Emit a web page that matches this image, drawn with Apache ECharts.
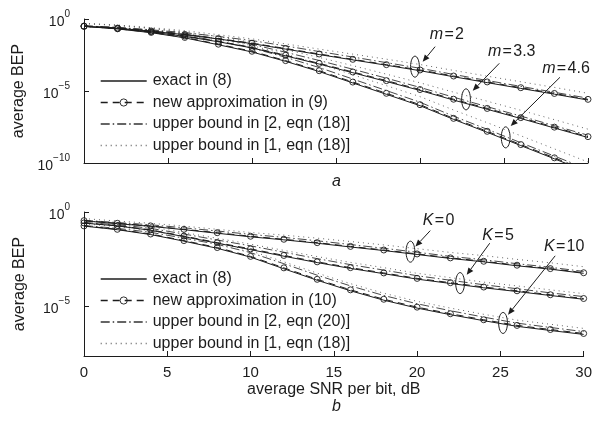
<!DOCTYPE html>
<html>
<head>
<meta charset="utf-8">
<script src="https://cdn.jsdelivr.net/npm/echarts@6/dist/echarts.min.js"></script>
<style>
  html, body { margin: 0; padding: 0; background: #fff; }
  #chart { width: 595px; height: 423px; }
</style>
</head>
<body>
<div id="chart"></div>
<script>
// SNR per bit (dB), markers every 2 dB
const snr = [0, 2, 4, 6, 8, 10, 12, 14, 16, 18, 20, 22, 24, 26, 28, 30];

// panel a (Nakagami-m), values are log10 of the average BEP
const exactM2  = [-0.51, -0.64, -0.85, -1.09, -1.39, -1.71, -2.09, -2.47, -2.84, -3.21, -3.59, -4.01, -4.42, -4.82, -5.22, -5.63];
const exactM33 = [-0.51, -0.67, -0.90, -1.21, -1.58, -2.01, -2.56, -3.13, -3.73, -4.34, -4.96, -5.63, -6.27, -6.91, -7.57, -8.23];
const exactM46 = [-0.51, -0.69, -0.95, -1.31, -1.79, -2.29, -2.94, -3.65, -4.44, -5.23, -6.02, -6.97, -7.87, -8.79, -9.71, -10.63];
const approxM2  = [-0.50, -0.63, -0.83, -1.07, -1.36, -1.68, -2.05, -2.43, -2.80, -3.17, -3.54, -3.96, -4.37, -4.77, -5.17, -5.58];
const approxM33 = [-0.50, -0.66, -0.88, -1.18, -1.55, -1.97, -2.52, -3.08, -3.68, -4.28, -4.90, -5.57, -6.21, -6.85, -7.51, -8.17];
const approxM46 = [-0.50, -0.68, -0.93, -1.28, -1.75, -2.24, -2.89, -3.59, -4.38, -5.16, -5.95, -6.90, -7.80, -8.72, -9.64, -10.56];
const ub2M2  = [-0.48, -0.58, -0.75, -0.95, -1.21, -1.50, -1.87, -2.26, -2.64, -3.03, -3.42, -3.85, -4.27, -4.68, -5.09, -5.50];
const ub2M33 = [-0.48, -0.60, -0.78, -1.04, -1.37, -1.76, -2.31, -2.88, -3.49, -4.11, -4.75, -5.43, -6.09, -6.74, -7.41, -8.07];
const ub2M46 = [-0.48, -0.61, -0.82, -1.12, -1.55, -2.01, -2.66, -3.37, -4.17, -4.97, -5.78, -6.75, -7.66, -8.59, -9.52, -10.44];
const ub1M2  = [-0.31, -0.42, -0.60, -0.81, -1.09, -1.38, -1.73, -2.09, -2.44, -2.79, -3.16, -3.57, -3.97, -4.36, -4.75, -5.16];
const ub1M33 = [-0.31, -0.44, -0.63, -0.90, -1.23, -1.62, -2.13, -2.67, -3.24, -3.83, -4.43, -5.08, -5.71, -6.34, -6.99, -7.65];
const ub1M46 = [-0.31, -0.45, -0.66, -0.97, -1.40, -1.85, -2.45, -3.12, -3.87, -4.63, -5.39, -6.32, -7.20, -8.11, -9.02, -9.93];

// panel b (Rician K), log10 of the average BEP
const exactK0  = [-0.47, -0.62, -0.76, -0.94, -1.13, -1.32, -1.48, -1.66, -1.86, -2.05, -2.26, -2.47, -2.65, -2.86, -3.04, -3.26];
const exactK5  = [-0.59, -0.74, -0.97, -1.31, -1.66, -2.00, -2.35, -2.69, -3.00, -3.28, -3.57, -3.80, -4.03, -4.23, -4.44, -4.64];
const exactK10 = [-0.75, -0.94, -1.20, -1.55, -1.93, -2.40, -3.02, -3.63, -4.19, -4.69, -5.11, -5.46, -5.78, -6.08, -6.30, -6.51];
const approxK0  = [-0.46, -0.60, -0.74, -0.92, -1.10, -1.29, -1.45, -1.63, -1.83, -2.02, -2.23, -2.44, -2.62, -2.83, -3.01, -3.23];
const approxK5  = [-0.58, -0.72, -0.95, -1.28, -1.63, -1.96, -2.31, -2.65, -2.96, -3.24, -3.53, -3.76, -3.99, -4.19, -4.40, -4.60];
const approxK10 = [-0.74, -0.92, -1.17, -1.52, -1.89, -2.36, -2.97, -3.58, -4.14, -4.64, -5.06, -5.41, -5.73, -6.03, -6.25, -6.46];
const ub2K0  = [-0.44, -0.56, -0.68, -0.84, -1.01, -1.19, -1.35, -1.53, -1.73, -1.93, -2.14, -2.36, -2.54, -2.75, -2.94, -3.16];
const ub2K5  = [-0.56, -0.67, -0.87, -1.17, -1.49, -1.80, -2.14, -2.48, -2.80, -3.09, -3.39, -3.63, -3.87, -4.08, -4.30, -4.50];
const ub2K10 = [-0.72, -0.87, -1.08, -1.39, -1.72, -2.16, -2.75, -3.36, -3.93, -4.44, -4.88, -5.25, -5.59, -5.91, -6.14, -6.36];
const ub1K0  = [-0.35, -0.48, -0.60, -0.75, -0.92, -1.09, -1.23, -1.39, -1.57, -1.75, -1.95, -2.15, -2.32, -2.52, -2.70, -2.91];
const ub1K5  = [-0.47, -0.59, -0.79, -1.09, -1.40, -1.71, -2.04, -2.37, -2.68, -2.96, -3.26, -3.49, -3.73, -3.93, -4.14, -4.34];
const ub1K10 = [-0.63, -0.78, -1.00, -1.30, -1.63, -2.06, -2.65, -3.25, -3.81, -4.32, -4.75, -5.11, -5.44, -5.75, -5.97, -6.19];

const namesA = ['exact in (8)', 'new approximation in (9)', 'upper bound in [2, eqn (18)]', 'upper bound in [1, eqn (18)]'];
const namesB = ['exact in (8)', 'new approximation in (10)', 'upper bound in [2, eqn (20)]', 'upper bound in [1, eqn (18)]'];

const yTicksA = [1e-10, 1e-5, 1];
const yTicksB = [1e-5, 1];
const yMinB = 2.2e-8;

// callouts, in data coords (x dB, log10 BEP)
const notesA = [
  { sym: 'm', val: '2',   label: [21.6, -1.11],  from: [20.9, -1.92],  to: [20.16, -2.97], ring: [19.7, -3.31] },
  { sym: 'm', val: '3.3', label: [25.46, -2.27], from: [24.72, -3.08], to: [23.14, -4.98], ring: [22.74, -5.58] },
  { sym: 'm', val: '4.6', label: [28.69, -3.42], from: [28.33, -4.05], to: [25.4, -7.43],  ring: [25.1, -8.22] }
];
const notesB = [
  { sym: 'K', val: '0',  label: [21.29, -0.46], from: [20.79, -0.99], to: [19.9, -1.84],  ring: [19.6, -2.11] },
  { sym: 'K', val: '5',  label: [24.86, -1.27], from: [24.36, -1.66], to: [22.98, -3.34], ring: [22.58, -3.78] },
  { sym: 'K', val: '10', label: [28.83, -1.84], from: [28.29, -2.33], to: [25.46, -5.46], ring: [25.16, -5.9] }
];

const ink = '#1c1c1c';
const clear = 'rgba(0,0,0,0)';
const FONT = '"Liberation Sans", Arial, Helvetica, sans-serif';

const chart = echarts.init(document.getElementById('chart'));

const toPts = arr => arr.map((v, i) => [snr[i], Math.pow(10, v)]);

// only the approximation carries circle markers; the others get an invisible symbol
const kinds = {
  exact:  { lineStyle: { color: ink, width: 1, type: 'solid' }, marker: false, z: 5 },
  approx: { lineStyle: { color: ink, width: 1, type: [7, 5] }, marker: true, z: 4 },
  ub2:    { lineStyle: { color: '#333', width: 0.9, type: [9, 3, 1.5, 3] }, marker: false, z: 3 },
  ub1:    { lineStyle: { color: '#666', width: 1, type: [1, 4] }, marker: false, z: 2 }
};
const kindOrder = ['exact', 'approx', 'ub2', 'ub1'];

function curve(name, kind, vals, panel) {
  const k = kinds[kind];
  return {
    type: 'line', name: name, data: toPts(vals),
    xAxisIndex: panel, yAxisIndex: panel,
    color: k.lineStyle.color, lineStyle: k.lineStyle,
    symbol: 'circle', symbolSize: 6, showSymbol: k.marker,
    itemStyle: k.marker
      ? { color: clear, borderColor: ink, borderWidth: 0.9 }
      : { color: clear, borderColor: clear, borderWidth: 0 },
    z: k.z, silent: true, animation: false, clip: true
  };
}

const series = [];
[[exactM2, approxM2, ub2M2, ub1M2], [exactM33, approxM33, ub2M33, ub1M33], [exactM46, approxM46, ub2M46, ub1M46]]
  .forEach(g => kindOrder.forEach((k, i) => series.push(curve(namesA[i], k, g[i], 0))));
[[exactK0, approxK0, ub2K0, ub1K0], [exactK5, approxK5, ub2K5, ub1K5], [exactK10, approxK10, ub2K10, ub1K10]]
  .forEach(g => kindOrder.forEach((k, i) => series.push(curve(namesB[i], k, g[i], 1))));

const powLabel = v => {
  const e = Math.round(Math.log10(v));
  return '{b|10}{s|' + (e < 0 ? '\u2212' + (-e) : e) + '}';
};
const powRich = {
  b: { fontSize: 14, fontFamily: FONT, color: ink, lineHeight: 20, verticalAlign: 'bottom' },
  s: { fontSize: 10, fontFamily: FONT, color: ink, lineHeight: 10, verticalAlign: 'top' }
};

function xAxis(idx, labels) {
  return {
    type: 'value', gridIndex: idx, min: 0, max: 30, interval: 5,
    axisLine: { onZero: false, lineStyle: { color: ink, width: 1 } },
    axisTick: { inside: true, length: 5, lineStyle: { color: ink } },
    axisLabel: { show: labels, margin: 9, color: ink, fontSize: 15, fontFamily: FONT },
    splitLine: { show: false },
    name: labels ? 'average SNR per bit, dB' : '',
    nameLocation: 'middle', nameGap: 26,
    nameTextStyle: { color: ink, fontSize: 16, fontFamily: FONT }
  };
}

function yAxis(idx, min, ticks) {
  return {
    type: 'log', logBase: 10, gridIndex: idx, min: min, max: 1,
    axisLine: { show: true, onZero: false, lineStyle: { color: ink, width: 1 } },
    axisTick: { show: true, inside: true, length: 5, lineStyle: { color: ink }, customValues: ticks },
    axisLabel: { margin: 14, formatter: powLabel, rich: powRich, customValues: ticks },
    minorTick: { show: false },
    splitLine: { show: false },
    name: 'average BEP', nameLocation: 'middle', nameGap: 56,
    nameTextStyle: { color: ink, fontSize: 16, fontFamily: FONT }
  };
}

function legend(top, names) {
  return {
    orient: 'vertical', left: 95, top: top,
    data: names.map((n, i) => ({
      name: n,
      itemStyle: kindOrder[i] === 'approx'
        ? { color: clear, borderColor: ink, borderWidth: 0.9 }
        : { color: clear, borderColor: clear, borderWidth: 0, opacity: 0 }
    })),
    itemWidth: 46, itemHeight: 9, itemGap: 5.5, selectedMode: false,
    lineStyle: { width: 1.4 },
    textStyle: { color: ink, fontSize: 16, fontFamily: FONT, padding: [0, 0, 0, 1] }
  };
}

chart.setOption({
  backgroundColor: '#fff',
  animation: false,
  grid: [
    { left: 84, right: 7, top: 19, height: 144 },
    { left: 84, right: 7, top: 212, height: 144 }
  ],
  xAxis: [xAxis(0, false), xAxis(1, true)],
  yAxis: [yAxis(0, 1e-10, yTicksA), yAxis(1, yMinB, yTicksB)],
  legend: [legend(68, namesA), legend(266, namesB)],
  series: series
});

// callouts: label, arrow and ellipse placed through the axes
function notes(list, panel) {
  const px = p => chart.convertToPixel({ xAxisIndex: panel, yAxisIndex: panel }, [p[0], Math.pow(10, p[1])]);
  const out = [];
  list.forEach(n => {
    const t = px(n.label), a = px(n.from), b = px(n.to), r = px(n.ring);
    out.push({
      type: 'text', x: t[0], y: t[1], silent: true,
      style: {
        text: '{i|' + n.sym + '}{n|\u200a=\u200a' + n.val + '}', align: 'center', verticalAlign: 'middle',
        rich: {
          i: { fontSize: 16, fontStyle: 'italic', fontFamily: FONT, fill: ink },
          n: { fontSize: 16, fontFamily: FONT, fill: ink }
        }
      }
    });
    const ang = Math.atan2(b[1] - a[1], b[0] - a[0]);
    const hl = 7, hw = 3;
    const bx = b[0] - hl * Math.cos(ang), by = b[1] - hl * Math.sin(ang);
    out.push({
      type: 'line', silent: true,
      shape: { x1: a[0], y1: a[1], x2: bx, y2: by },
      style: { stroke: ink, lineWidth: 1 }
    });
    out.push({
      type: 'polygon', silent: true,
      shape: { points: [
        [b[0], b[1]],
        [bx + hw * Math.sin(ang), by - hw * Math.cos(ang)],
        [bx - hw * Math.sin(ang), by + hw * Math.cos(ang)]
      ] },
      style: { fill: ink }
    });
    out.push({
      type: 'ellipse', silent: true,
      shape: { cx: r[0], cy: r[1], rx: 4.4, ry: 10.5 },
      style: { fill: 'none', stroke: ink, lineWidth: 1 }
    });
  });
  return out;
}

chart.setOption({
  graphic: notes(notesA, 0).concat(notes(notesB, 1)).concat([
    { type: 'text', x: 336.5, y: 182, silent: true,
      style: { text: 'a', fontSize: 16, fontStyle: 'italic', fontFamily: FONT, fill: ink, align: 'center', verticalAlign: 'middle' } },
    { type: 'text', x: 336.5, y: 407, silent: true,
      style: { text: 'b', fontSize: 16, fontStyle: 'italic', fontFamily: FONT, fill: ink, align: 'center', verticalAlign: 'middle' } }
  ])
});
</script>
</body>
</html>
